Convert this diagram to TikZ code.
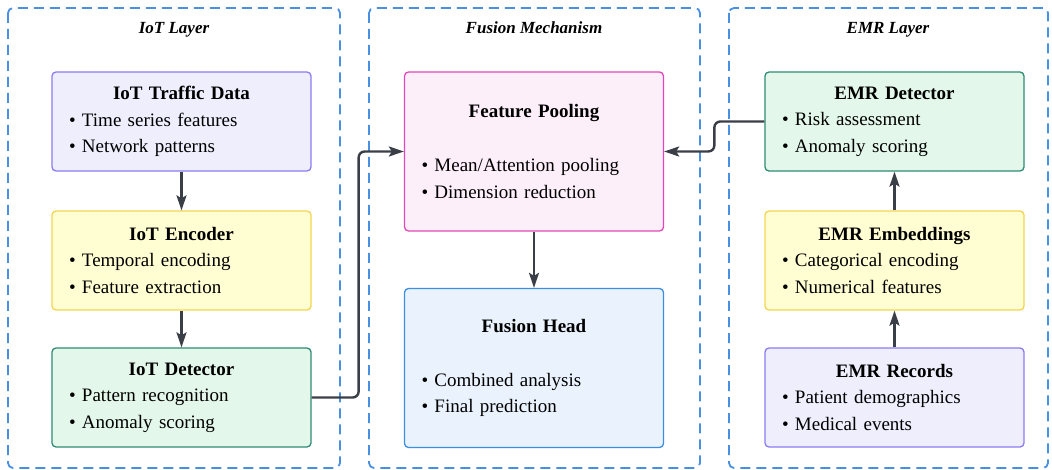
\documentclass[tikz,border=0pt]{standalone}
\usepackage{fontspec}
\setmainfont{Liberation Serif}
\usetikzlibrary{arrows.meta}

\definecolor{lavfill}{HTML}{EEEEFD}
\definecolor{lavline}{HTML}{8B7CF0}
\definecolor{yelfill}{HTML}{FFFDD2}
\definecolor{yelline}{HTML}{F3D552}
\definecolor{grnfill}{HTML}{E3F8EA}
\definecolor{grnline}{HTML}{2E8B74}
\definecolor{pinkfill}{HTML}{FDEFF9}
\definecolor{pinkline}{HTML}{E048B8}
\definecolor{bluefill}{HTML}{EAF3FD}
\definecolor{blueline}{HTML}{3D8EE0}
\definecolor{grpline}{HTML}{4A90E2}
\definecolor{arrowgray}{HTML}{3A3F47}

\newcommand{\cardtitle}[1]{\makebox[225pt]{\textbf{#1}}}

\begin{document}
\begin{tikzpicture}[x=1pt, y=-1pt,
    card/.style={rectangle, draw, rounded corners=4pt, line width=1.3pt,
        minimum width=259pt, minimum height=99pt, text width=225pt,
        inner xsep=17pt, align=left, font=\fontsize{19}{26.5}\selectfont},
    bigcard/.style={card, minimum height=159pt},
    group/.style={draw=grpline, line width=1.8pt, dash pattern=on 10pt off 6pt, rounded corners=5pt},
    grouplabel/.style={anchor=base, font=\fontsize{17}{20}\selectfont\bfseries\itshape},
    link/.style={draw=arrowgray, line width=2.4pt, rounded corners=6pt,
        -{Stealth[length=15pt, width=10pt, inset=3pt]}}]
    \useasboundingbox (0,0) rectangle (1052,470);

    % Draw groups
    \draw[group] (8,8) rectangle (340,468);
    \draw[group] (369,8) rectangle (700,468);
    \draw[group] (729,8) rectangle (1048,468);
    \node[grouplabel] (iotlabel) at (174,34) {IoT Layer};
    \node[grouplabel] (fusionlabel) at (534,34) {Fusion Mechanism};
    \node[grouplabel] (emrlabel) at (888,34) {EMR Layer};

    % Draw nodes
    \node[card, fill=lavfill, draw=lavline] (traffic) at (181.5,121.5)
        {\cardtitle{IoT Traffic Data}\\ \textbullet~Time series features\\ \textbullet~Network patterns};
    \node[card, fill=yelfill, draw=yelline] (iotenc) at (181.5,260.5)
        {\cardtitle{IoT Encoder}\\ \textbullet~Temporal encoding\\ \textbullet~Feature extraction};
    \node[card, fill=grnfill, draw=grnline] (iotdet) at (181.5,397.5)
        {\cardtitle{IoT Detector}\\ \textbullet~Pattern recognition\\ \textbullet~Anomaly scoring};

    \node[bigcard, fill=pinkfill, draw=pinkline] (pool) at (534,151.5)
        {\cardtitle{Feature Pooling}\\[27.5pt] \textbullet~Mean/Attention pooling\\ \textbullet~Dimension reduction};
    \node[bigcard, fill=bluefill, draw=blueline] (head) at (534,368)
        {\cardtitle{Fusion Head}\\[27.5pt] \textbullet~Combined analysis\\ \textbullet~Final prediction};

    \node[card, fill=grnfill, draw=grnline] (emrdet) at (894.5,121.5)
        {\cardtitle{EMR Detector}\\ \textbullet~Risk assessment\\ \textbullet~Anomaly scoring};
    \node[card, fill=yelfill, draw=yelline] (emremb) at (894.5,260.5)
        {\cardtitle{EMR Embeddings}\\ \textbullet~Categorical encoding\\ \textbullet~Numerical features};
    \node[card, fill=lavfill, draw=lavline] (records) at (894.5,397.5)
        {\cardtitle{EMR Records}\\ \textbullet~Patient demographics\\ \textbullet~Medical events};

    % Draw connections
    \draw[link] (traffic) -- (iotenc);
    \draw[link] (iotenc) -- (iotdet);
    \draw[link] (iotdet.east) -- ++(47,0) |- (pool.west);
    \draw[link] (records) -- (emremb);
    \draw[link] (emremb) -- (emrdet);
    \draw[link] (emrdet.west) -- ++(-50,0) |- (pool.east);
    \draw[link] (pool) -- (head);
\end{tikzpicture}
\end{document}
